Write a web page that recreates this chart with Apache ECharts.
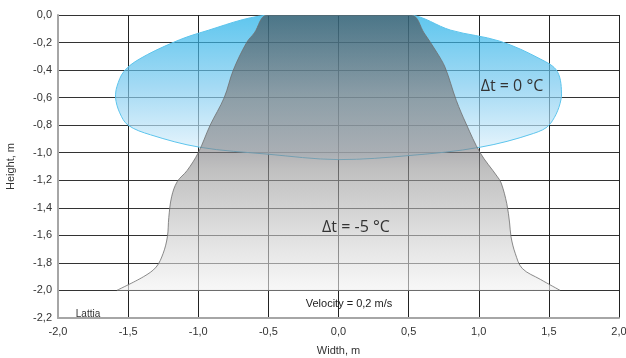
<!DOCTYPE html>
<html>
<head>
<meta charset="utf-8">
<script src="https://cdn.jsdelivr.net/npm/echarts@6/dist/echarts.min.js"></script>
<style>
  html, body { margin: 0; padding: 0; background: #fff; }
  #chart { width: 626px; height: 358px; }
</style>
</head>
<body>
<div id="chart"></div>
<script>
// Δt = 0 °C contour (blue)
const warmX = [-0.50, -0.99, -1.18, -1.42, -1.53, -1.58, -1.59, -1.56, -1.50, -1.34, -0.99, -0.51, 0.00, 0.51, 1.01, 1.39, 1.51, 1.59, 1.56, 1.44, 1.15, 0.80, 0.51];
const warmY = [0.00, -0.13, -0.20, -0.32, -0.41, -0.52, -0.60, -0.71, -0.80, -0.87, -0.96, -1.01, -1.05, -1.02, -0.96, -0.86, -0.79, -0.59, -0.41, -0.32, -0.19, -0.11, 0.00];

// Δt = -5 °C contour (grey), left side top->bottom, right side bottom->top
const coldX = [-0.51, -0.60, -0.655, -0.75, -0.815, -0.915, -1.00, -1.08, -1.15, -1.19, -1.21, -1.22, -1.25, -1.30, -1.39, -1.58,
               1.58, 1.44, 1.31, 1.26, 1.23, 1.22, 1.20, 1.16, 1.13, 1.01, 0.91, 0.84, 0.76, 0.70, 0.61, 0.52];
const coldY = [0.00, -0.13, -0.20, -0.40, -0.60, -0.80, -1.00, -1.13, -1.21, -1.32, -1.47, -1.61, -1.73, -1.83, -1.90, -2.00,
               -2.00, -1.92, -1.84, -1.73, -1.61, -1.51, -1.37, -1.22, -1.17, -1.00, -0.79, -0.62, -0.38, -0.27, -0.13, 0.00];

const xMin = -2.0, xMax = 2.0, xStep = 0.5;
const yMin = -2.2, yMax = 0.0, yStep = 0.2;

const chart = echarts.init(document.getElementById('chart'));

function fmt(v) {
  return v.toFixed(1).replace('.', ',');
}

// polygon drawn through the axes
function contour(xs, ys, style) {
  return function (params, api) {
    const pts = xs.map((x, i) => api.coord([x, ys[i]]));
    const px = pts.map(p => p[0]), py = pts.map(p => p[1]);
    const box = [[Math.min(...px), Math.min(...py)], [Math.max(...px), Math.max(...py)]];
    return {
      type: 'polygon',
      shape: { points: pts, smooth: 0.35, smoothConstraint: box },
      style: style
    };
  };
}

const warmFill = new echarts.graphic.LinearGradient(0, 0, 0, 1, [
  { offset: 0, color: 'rgba(18,171,230,0.68)' },
  { offset: 0.5, color: 'rgba(122,201,239,0.68)' },
  { offset: 1, color: 'rgba(233,245,253,0.68)' }
]);
const coldFill = new echarts.graphic.LinearGradient(0, 0, 0, 1, [
  { offset: 0, color: 'rgba(61,63,67,0.6)' },
  { offset: 0.3, color: 'rgba(118,116,116,0.6)' },
  { offset: 0.5, color: 'rgba(128,128,132,0.6)' },
  { offset: 0.56, color: 'rgba(150,150,150,0.6)' },
  { offset: 0.8, color: 'rgba(203,203,203,0.6)' },
  { offset: 1, color: 'rgba(243,243,243,0.6)' }
]);

const option = {
  animation: false,
  grid: { left: 58, right: 7, top: 15, bottom: 40, outerBoundsMode: 'none' },
  xAxis: {
    type: 'value',
    min: xMin,
    max: xMax,
    interval: xStep,
    name: 'Width, m',
    nameLocation: 'middle',
    nameGap: 27,
    nameTextStyle: { fontFamily: 'Liberation Sans', fontSize: 11, color: '#333' },
    axisLine: { onZero: false, lineStyle: { color: '#a6a6a6', width: 2 } },
    axisTick: { show: false },
    axisLabel: { formatter: fmt, fontFamily: 'Liberation Sans', fontSize: 11, color: '#333', margin: 8 },
    splitLine: { lineStyle: { color: '#222', width: 1 } }
  },
  yAxis: {
    type: 'value',
    min: yMin,
    max: yMax,
    interval: yStep,
    name: 'Height, m',
    nameLocation: 'middle',
    nameGap: 42,
    nameTextStyle: { fontFamily: 'Liberation Sans', fontSize: 11, color: '#333' },
    axisLine: { show: true, onZero: false, lineStyle: { color: '#a6a6a6', width: 2 } },
    axisTick: { show: false },
    axisLabel: { formatter: fmt, fontFamily: 'Liberation Sans', fontSize: 11, color: '#333', margin: 6 },
    splitLine: { lineStyle: { color: '#333', width: 1 } }
  },
  series: [
    {
      type: 'custom',
      clip: true,
      data: [[0, 0]],
      renderItem: contour(warmX, warmY, { fill: warmFill, stroke: '#5cc4ec', lineWidth: 1 })
    },
    {
      type: 'custom',
      clip: true,
      data: [[0, 0]],
      renderItem: contour(coldX, coldY, { fill: coldFill, stroke: 'rgba(110,110,110,0.8)', lineWidth: 1 })
    }
  ],
  graphic: [
    { type: 'text', z: 100, x: 512, y: 86, style: { text: 'Δt = 0 °C', font: '16px "Open Sans"', fill: '#333', textAlign: 'center', textVerticalAlign: 'middle' } },
    { type: 'text', z: 100, x: 356, y: 227, style: { text: 'Δt = -5 °C', font: '16px "Open Sans"', fill: '#333', textAlign: 'center', textVerticalAlign: 'middle' } },
    { type: 'text', z: 100, x: 349, y: 304, style: { text: 'Velocity = 0,2 m/s', font: '11px "Liberation Sans"', fill: '#222', textAlign: 'center', textVerticalAlign: 'middle' } },
    { type: 'text', z: 100, x: 88, y: 314, style: { text: 'Lattia', font: '10px "Liberation Sans"', fill: '#333', textAlign: 'center', textVerticalAlign: 'middle' } }
  ]
};

chart.setOption(option);
</script>
</body>
</html>
